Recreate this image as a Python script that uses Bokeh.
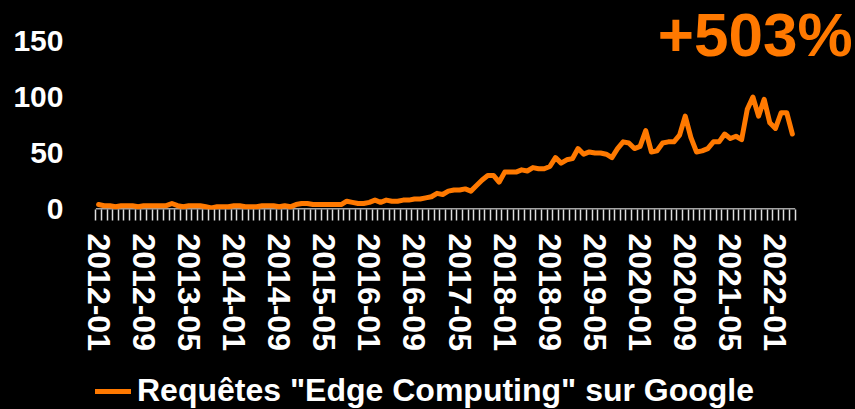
from bokeh.plotting import figure
from bokeh.layouts import column
from bokeh.models import Range1d, FixedTicker, Label, Legend, LegendItem, ColumnDataSource
from bokeh.embed import file_html
from bokeh.resources import INLINE

# Monthly Google Trends index, 2012-01 .. 2022-04
values = [
    4, 3, 3, 2, 3, 3, 3, 2, 3, 3, 3, 3,
    3, 5, 3, 2, 3, 3, 3, 2, 1, 2, 2, 2,
    3, 3, 2, 2, 2, 3, 3, 3, 2, 3, 2, 4,
    5, 5, 4, 4, 4, 4, 4, 4, 7, 6, 5, 5,
    6, 8, 6, 8, 7, 7, 8, 8, 9, 9, 10, 11,
    14, 13, 16, 17, 17, 18, 16, 21, 26, 30, 30, 24,
    33, 33, 33, 35, 34, 37, 36, 36, 38, 46, 41, 44,
    45, 54, 49, 51, 50, 50, 49, 46, 54, 60, 59, 54,
    56, 70, 51, 52, 59, 60, 60, 66, 83, 64, 51, 52,
    54, 60, 60, 67, 63, 65, 62, 89, 100, 83, 98, 77,
    72, 86, 86, 67,
]
tick_positions = [0, 8, 16, 24, 32, 40, 48, 56, 64, 72, 80, 88, 96, 104, 112, 120]
tick_labels = ["2012-01", "2012-09", "2013-05", "2014-01", "2014-09", "2015-05",
               "2016-01", "2016-09", "2017-05", "2018-01", "2018-09", "2019-05",
               "2020-01", "2020-09", "2021-05", "2022-01"]
y_ticks = [0, 50, 100, 150]
series_name = 'Requêtes "Edge Computing" sur Google'
headline = "+503%"

ORANGE = "#FF7900"
FONT = "Liberation Sans"

n = len(values)
p = figure(width=855, height=371, output_backend="svg", toolbar_location=None,
           x_range=Range1d(-0.55, 134.19), y_range=Range1d(-0.4, 175.54),
           min_border_left=95, min_border_right=0, min_border_top=12,
           min_border_bottom=162)
p.background_fill_color = None
p.border_fill_color = None
p.outline_line_color = None
p.grid.visible = False

# axis baseline spanning the months only
p.line(x=[-0.5, n - 0.5], y=[0, 0], line_color="#dddddd", line_width=1.5)

src = ColumnDataSource(dict(x=list(range(n)), y=values))
r = p.line("x", "y", source=src, line_color=ORANGE, line_width=5,
           line_join="round", line_cap="round")

xa = p.xaxis[0]
xa.ticker = FixedTicker(ticks=tick_positions, minor_ticks=[i - 0.5 for i in range(n + 1)])
xa.major_label_overrides = {pos: lab for pos, lab in zip(tick_positions, tick_labels)}
xa.major_label_orientation = "vertical"
xa.axis_line_color = None
xa.major_tick_line_color = None
xa.major_tick_out = 0
xa.major_tick_in = 0
xa.minor_tick_line_color = "#e0e0e0"
xa.minor_tick_line_width = 1.5
xa.minor_tick_out = 11
xa.minor_tick_in = 0
xa.major_label_standoff = 13
xa.major_label_text_color = "white"
xa.major_label_text_font = FONT
xa.major_label_text_font_size = "32px"
xa.major_label_text_font_style = "bold"

ya = p.yaxis[0]
ya.ticker = FixedTicker(ticks=y_ticks)
ya.axis_line_color = None
ya.major_tick_line_color = None
ya.minor_tick_line_color = None
ya.major_tick_out = 0
ya.major_tick_in = 0
ya.major_label_standoff = 32
ya.major_label_text_color = "white"
ya.major_label_text_font = FONT
ya.major_label_text_font_size = "30px"
ya.major_label_text_font_style = "bold"

p.add_layout(Label(x=133.66, y=155.9, text=headline, text_align="right",
                   text_baseline="alphabetic", text_color=ORANGE,
                   text_font=FONT, text_font_size="62px", text_font_style="bold"))

# legend strip below the chart (shares the series source; its ranges show no data)
p2 = figure(width=855, height=38, output_backend="svg", toolbar_location=None,
            x_range=Range1d(0, 1), y_range=Range1d(200, 201),
            min_border_left=95, min_border_right=0, min_border_top=0,
            min_border_bottom=0)
p2.axis.visible = False
p2.grid.visible = False
p2.background_fill_color = None
p2.border_fill_color = None
p2.outline_line_color = None
r2 = p2.line("x", "y", source=src, line_color=ORANGE, line_width=5, line_cap="round")

legend = Legend(items=[LegendItem(label=series_name, renderers=[r2])],
                location=(0, 0), padding=0, margin=0, spacing=0,
                glyph_width=36, glyph_height=20, label_standoff=6,
                label_text_color="white", label_text_font=FONT,
                label_text_font_size="32px", label_text_font_style="bold",
                background_fill_alpha=0, border_line_color=None)
p2.add_layout(legend)

layout = column(p, p2, spacing=0)

html = file_html(layout, INLINE)
html = html.replace("</head>", "<style>html, body { background-color: #000000; }</style>\n</head>", 1)
open("out.html", "w").write(html)
